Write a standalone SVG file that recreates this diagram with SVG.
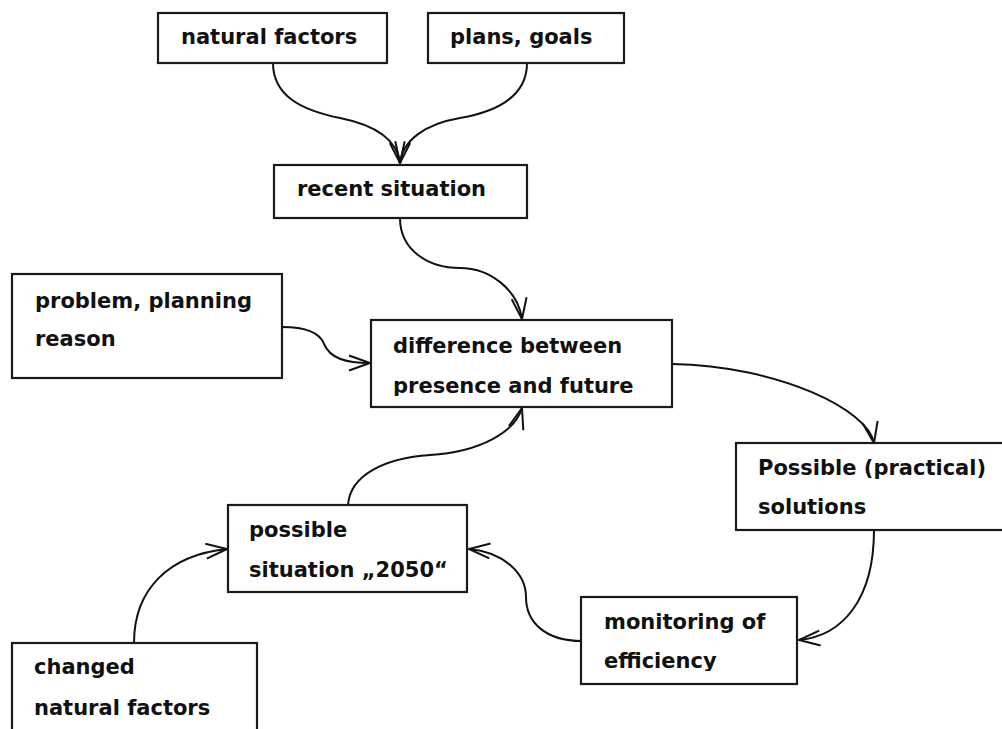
<svg xmlns="http://www.w3.org/2000/svg" width="1002" height="729" viewBox="0 0 1002 729">
<style>
.box{fill:#fff;stroke:#1a1a1a;stroke-width:2.2}
.t{font-family:"DejaVu Sans",Verdana,sans-serif;font-weight:bold;font-size:21px;fill:#111}
.c{fill:none;stroke:#111;stroke-width:2;marker-end:url(#ah)}
</style>
<defs>
<marker id="ah" markerUnits="userSpaceOnUse" markerWidth="30" markerHeight="30" refX="21" refY="7.5" orient="auto" overflow="visible">
<path d="M0,0 L21,7.5 L0,15" fill="none" stroke="#111" stroke-width="2"/>
</marker>
<clipPath id="clipDiff"><rect x="372" y="321" width="299" height="75"/></clipPath>
<clipPath id="clipMon"><rect x="582" y="598" width="214" height="73"/></clipPath>
</defs>
<rect width="1002" height="729" fill="#fff"/>
<g id="connectors">
<path class="c" d="M273,63 C273,95 300,110 340,118 C375,125 397,140 400,163"/>
<path class="c" d="M527,63 C527,95 500,111 460,118 C425,124 403,140 400,163"/>
<path class="c" d="M400,218 C400,250 428,268 460,268 C490,268 518,290 522,319"/>
<path class="c" d="M282,327 C308,327 320,333 324,344 C330,358 345,363 370,363"/>
<path class="c" d="M672,364 C780,366 868,410 874,443"/>
<path class="c" d="M874,530 C874,600 842,636 799,640"/>
<path class="c" d="M582,641 C545,641 526,622 526,597 C526,572 502,552 469,549"/>
<path class="c" d="M134,643 C134,590 168,555 227,549"/>
<path class="c" d="M348,505 C350,475 385,458 430,455 C480,452 515,432 522,408"/>
</g>
<g id="natural-factors">
<rect class="box" x="158" y="13" width="229" height="50"/>
<text class="t" x="181" y="44">natural factors</text>
</g>
<g id="plans-goals">
<rect class="box" x="428" y="13" width="196" height="50"/>
<text class="t" x="450" y="44">plans, goals</text>
</g>
<g id="recent-situation">
<rect class="box" x="274" y="165" width="253" height="53"/>
<text class="t" x="297" y="196">recent situation</text>
</g>
<g id="problem">
<rect class="box" x="12" y="274" width="270" height="104"/>
<text class="t" x="35" y="308">problem, planning</text>
<text class="t" x="35" y="346">reason</text>
</g>
<g id="difference">
<rect class="box" x="371" y="320" width="301" height="87"/>
<g clip-path="url(#clipDiff)">
<text class="t" x="393" y="353">difference between</text>
<text class="t" x="393" y="393">presence and future</text>
</g>
</g>
<g id="solutions">
<rect class="box" x="736" y="443" width="290" height="87"/>
<text class="t" x="758" y="475">Possible (practical)</text>
<text class="t" x="758" y="514">solutions</text>
</g>
<g id="possible-situation">
<rect class="box" x="228" y="505" width="239" height="87"/>
<text class="t" x="249" y="537">possible</text>
<text class="t" x="249" y="577">situation „2050“</text>
</g>
<g id="monitoring">
<rect class="box" x="581" y="597" width="216" height="87"/>
<g clip-path="url(#clipMon)">
<text class="t" x="604" y="629">monitoring of</text>
<text class="t" x="604" y="668">efficiency</text>
</g>
</g>
<g id="changed">
<rect class="box" x="12" y="643" width="245" height="110"/>
<text class="t" x="34" y="674">changed</text>
<text class="t" x="34" y="715">natural factors</text>
</g>
</svg>
